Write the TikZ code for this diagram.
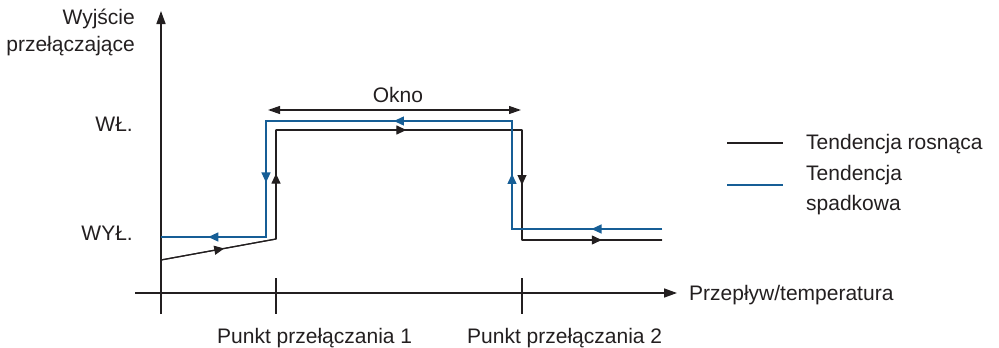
\documentclass[tikz,border=0pt]{standalone}
\usepackage{fontspec}
\setmainfont{Liberation Sans}
\usetikzlibrary{arrows.meta,decorations.markings}
\definecolor{bl}{RGB}{22,94,150}
\definecolor{dk}{RGB}{35,31,32}
\begin{document}
\begin{tikzpicture}[x=1pt,y=-1pt,
  font=\fontsize{21}{25}\selectfont,
  axis/.style={draw=dk,line width=1.5pt},
  rise/.style={draw=dk,line width=1.2pt,line join=miter},
  fall/.style={draw=bl,line width=1.2pt,line join=miter},
  midarrow/.style={postaction={decorate},decoration={markings,
    mark=at position #1 with {\arrow{Triangle[length=10pt,width=9pt]}}}},
  lbl/.style={inner sep=0pt,text=dk}]
\path[use as bounding box] (0,0) rectangle (999,348);

% axes
\coordinate (ybot) at (161,314);
\coordinate (ytop) at (161,11);
\coordinate (xl) at (135,293);
\coordinate (xr) at (677,293);
\draw[axis,-{Triangle[length=13pt,width=9pt]}] (ybot) -- (ytop);
\draw[axis,-{Triangle[length=13pt,width=9pt]}] (xl) -- (xr);
\coordinate (t1a) at (276,278); \coordinate (t1b) at (276,314);
\coordinate (t2a) at (522,278); \coordinate (t2b) at (522,314);
\draw[dk,line width=1.2pt] (t1a) -- (t1b);
\draw[dk,line width=1.2pt] (t2a) -- (t2b);

% rising trend (black)
\coordinate (r0) at (161,260);
\coordinate (r1) at (276,239);
\coordinate (r2) at (276,130);
\coordinate (r3) at (522,130);
\coordinate (r4) at (522,240);
\coordinate (r5) at (662,240);
\draw[rise] (r0) -- (r1) -- (r2) -- (r3) -- (r4) -- (r5);
\draw[rise,midarrow=0.55] (r0) -- (r1);
\draw[rise,midarrow=0.6] (r1) -- (r2);
\draw[rise,midarrow=0.53] (r2) -- (r3);
\draw[rise,midarrow=0.5] (r3) -- (r4);
\draw[rise,midarrow=0.57] (r4) -- (r5);

% falling trend (blue)
\coordinate (f0) at (662,229);
\coordinate (f1) at (512,229);
\coordinate (f2) at (512,121);
\coordinate (f3) at (266,121);
\coordinate (f4) at (266,237);
\coordinate (f5) at (161,237);
\draw[fall] (f0) -- (f1) -- (f2) -- (f3) -- (f4) -- (f5);
\draw[fall,midarrow=0.47] (f0) -- (f1);
\draw[fall,midarrow=0.51] (f1) -- (f2);
\draw[fall,midarrow=0.48] (f2) -- (f3);
\draw[fall,midarrow=0.53] (f3) -- (f4);
\draw[fall,midarrow=0.55] (f4) -- (f5);

% window
\coordinate (o1) at (268,110);
\coordinate (o2) at (521,110);
\draw[dk,line width=1.2pt,{Triangle[length=12pt,width=8pt]}-{Triangle[length=12pt,width=8pt]}] (o1) -- (o2);
\node[lbl,anchor=base] (okno) at (398,102) {Okno};

% labels
\node[lbl,anchor=base east] (wy1) at (135,24) {Wyjście};
\node[lbl,anchor=base east] (wy2) at (135,51) {przełączające};
\node[lbl,anchor=base east] (wl) at (133,131) {WŁ.};
\node[lbl,anchor=base east] (wyl) at (133,240) {WYŁ.};
\node[lbl,anchor=base west] (xlab) at (689,300) {Przepływ/temperatura};
\node[lbl,anchor=base west] (p1) at (217,343) {Punkt przełączania 1};
\node[lbl,anchor=base west] (p2) at (467,343) {Punkt przełączania 2};

% legend
\coordinate (la) at (727,143); \coordinate (lb) at (783,143);
\coordinate (lc) at (727,185); \coordinate (ld) at (783,185);
\draw[dk,line width=1.2pt] (la) -- (lb);
\draw[bl,line width=1.2pt] (lc) -- (ld);
\node[lbl,anchor=base west] (leg1) at (806,149) {Tendencja rosnąca};
\node[lbl,anchor=base west] (leg2) at (806,180) {Tendencja};
\node[lbl,anchor=base west] (leg3) at (806,210) {spadkowa};
\end{tikzpicture}
\end{document}
